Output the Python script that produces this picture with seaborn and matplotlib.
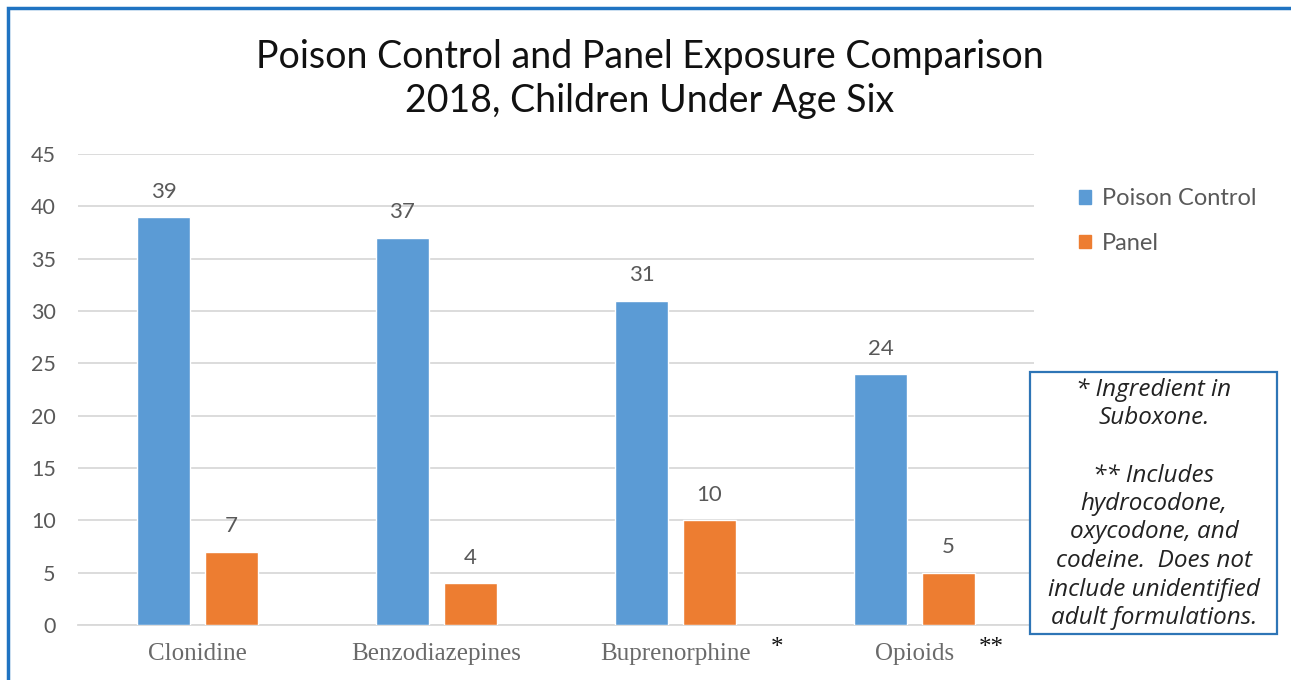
import matplotlib
matplotlib.use("Agg")
import matplotlib.pyplot as plt
from matplotlib.patches import Rectangle
import seaborn as sns
import pandas as pd

categories = ["Clonidine", "Benzodiazepines", "Buprenorphine", "Opioids"]
poison_control = [39, 37, 31, 24]
panel = [7, 4, 10, 5]
series_names = ["Poison Control", "Panel"]
footnote_marks = ["", "", "*", "**"]
yticks = [0, 5, 10, 15, 20, 25, 30, 35, 40, 45]
title = "Poison Control and Panel Exposure Comparison\n2018, Children Under Age Six"
note = ("* Ingredient in\nSuboxone.\n\n** Includes\nhydrocodone,\noxycodone, and\n"
        "codeine.  Does not\ninclude unidentified\nadult formulations.")

df = pd.DataFrame({
    "category": categories * 2,
    "series": [series_names[0]] * len(categories) + [series_names[1]] * len(categories),
    "value": poison_control + panel,
})

sns.set_theme(style="white")
plt.rcParams["font.family"] = ["Lato", "DejaVu Sans"]

W, H = 1291, 680
fig = plt.figure(figsize=(W / 100, H / 100), dpi=100)
ax = fig.add_axes([78 / W, 1 - 625 / H, (1034 - 78) / W, (625 - 154) / H])

palette = {series_names[0]: "#5B9BD5", series_names[1]: "#ED7D31"}
sns.barplot(data=df, x="category", y="value", hue="series", palette=palette,
            width=0.57, gap=0.22, saturation=1, ax=ax, legend=False, zorder=3)

ax.set_ylim(0, 45)
ax.set_xlim(-0.5, len(categories) - 0.5)
ax.set_yticks(yticks)
ax.yaxis.grid(True, color="#D9D9D9", linewidth=1.3, zorder=0)
ax.xaxis.grid(False)
for s in ["top", "right", "left"]:
    ax.spines[s].set_visible(False)
ax.spines["bottom"].set_color("#D9D9D9")
ax.spines["bottom"].set_linewidth(1.3)
ax.set_xlabel("")
ax.set_ylabel("")
ax.tick_params(axis="y", length=0, pad=16, labelsize=15.5, labelcolor="#595959")
ax.tick_params(axis="x", length=0, pad=13, labelsize=18, labelcolor="#6A6A6A")
for lbl in ax.get_xticklabels():
    lbl.set_family(["Liberation Serif", "DejaVu Serif"])

# value labels above each bar
for container in ax.containers:
    ax.bar_label(container, fmt="%d", padding=11, fontsize=16, color="#595959")

# footnote markers next to category names
xoffsets = {"*": 0.40, "**": 0.27}
for i, mark in enumerate(footnote_marks):
    if mark:
        ax.text(i + xoffsets[mark], -0.026, mark, transform=ax.get_xaxis_transform(),
                ha="left", va="top", fontsize=18, color="#111111",
                family=["Liberation Serif", "DejaVu Serif"])

# title
fig.text(650 / W, 1 - 79 / H, title, ha="center", va="center", fontsize=27,
         color="#111111", linespacing=1.28)

# legend
handles = [Rectangle((0, 0), 1, 1, color=palette[n]) for n in series_names]
fig.legend(handles, series_names, loc="upper left", bbox_to_anchor=(1058 / W, 1 - 167 / H),
           frameon=False, fontsize=17, handlelength=0.5, handleheight=0.5,
           handletextpad=0.45, labelspacing=1.0, labelcolor="#595959")

# footnote box
box = Rectangle((1030 / W, 1 - 634 / H), (1277 - 1030) / W, (634 - 372) / H,
                transform=fig.transFigure, facecolor="white", edgecolor="#2E75B6",
                linewidth=1.6, zorder=5)
fig.add_artist(box)
fig.text(1154 / W, 1 - 504 / H, note, ha="center", va="center", fontsize=17.5,
         style="italic", color="#222222", linespacing=1.25, zorder=6,
         family=["Open Sans", "DejaVu Sans"])

# outer frame
frame = Rectangle((8 / W, -0.1), 1.2, 1 - 8 / H + 0.1, transform=fig.transFigure,
                  fill=False, edgecolor="#1F73C2", linewidth=2.5, zorder=10)
fig.add_artist(frame)

fig.savefig("out.png", dpi=100, facecolor="white")
